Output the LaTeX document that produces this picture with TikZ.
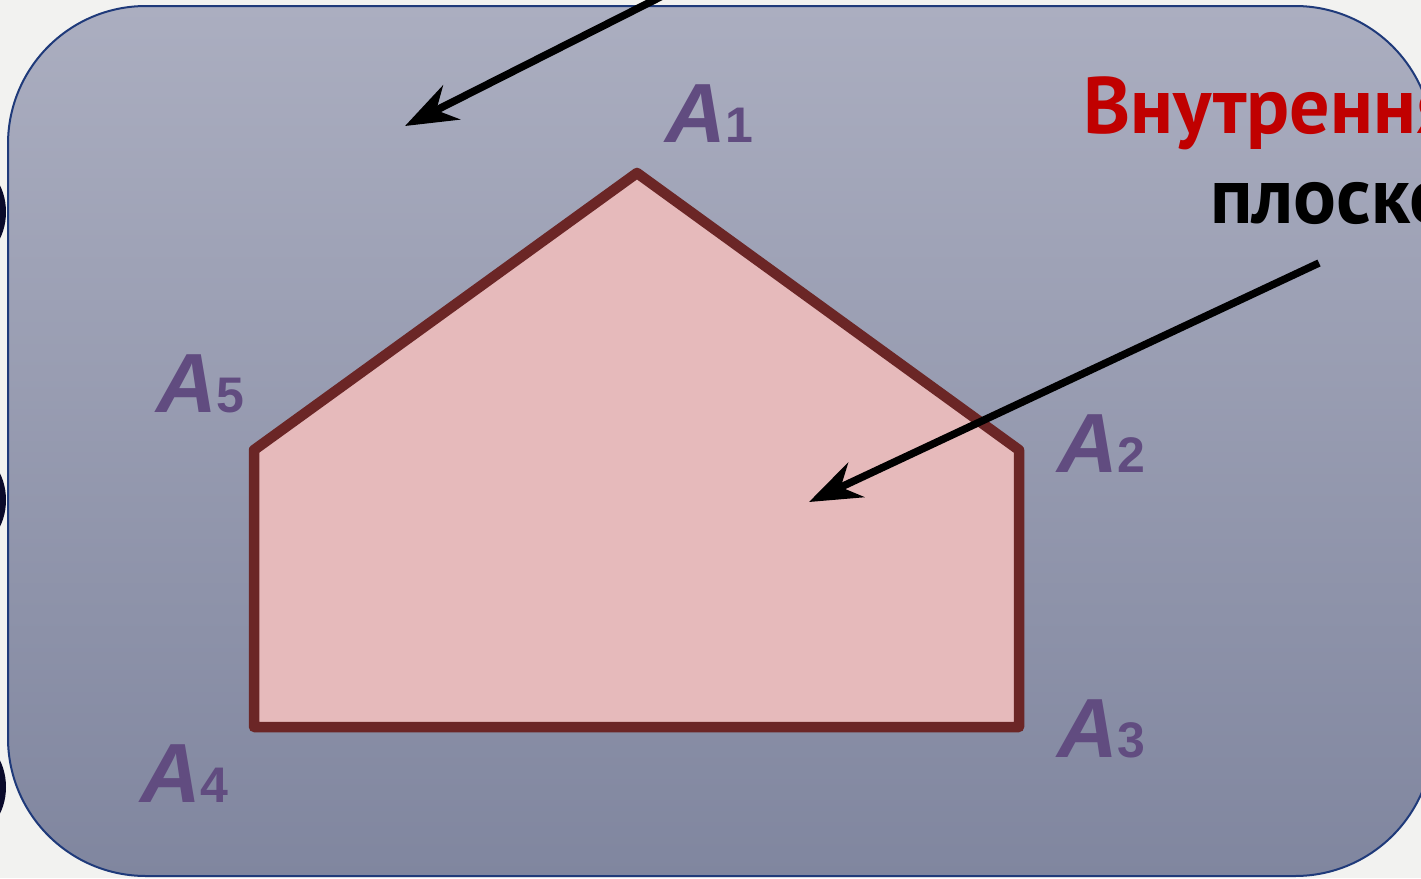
\documentclass[tikz,border=0pt]{standalone}
\usepackage{fontspec}
\setmainfont{Liberation Sans}
\newfontfamily\captionfont{PT Sans}
\usepackage{tikz}
\usetikzlibrary{arrows.meta}
\definecolor{pagegrey}   {RGB}{242, 242, 240}
\definecolor{boxtop}     {RGB}{171, 174, 192}
\definecolor{boxbottom}  {RGB}{128, 134, 159}
\definecolor{boxedge}    {RGB}{ 31,  58, 122}
\definecolor{polyfill}   {RGB}{230, 186, 187}
\definecolor{polyedge}   {RGB}{107,  38,  38}
\definecolor{vertpurple} {RGB}{ 97,  76, 128}
\definecolor{titlered}   {RGB}{192,   0,   0}
\definecolor{knobnavy}   {RGB}{ 10,  10,  42}

\begin{document}
\begin{tikzpicture}[x=1pt,y=-1pt,
	pointer/.style={line width=7.5pt,-{Stealth[length=52pt,width=38pt,inset=17pt]}},
	vlabel/.style={anchor=base west,inner sep=0pt,text=vertpurple,font=\bfseries}]
	\useasboundingbox (0,0) rectangle (1421,878);
	\clip (0,0) rectangle (1421,878);
	\fill[pagegrey] (0,0) rectangle (1421,878);
	\foreach \y in {212,500,787}{\fill[knobnavy] (-30,\y) ellipse [x radius=36pt, y radius=48pt];}
	\shade[top color=boxtop,bottom color=boxbottom,draw=boxedge,line width=2pt,rounded corners=138pt]
		(8,6) rectangle (1433,876);
	\foreach \i/\x/\y in {1/637/173,2/1019/450,3/1019/727,4/254/727,5/254/450}{\coordinate (P\i) at (\x,\y);}
	\draw[polyedge,fill=polyfill,line width=10.5pt,line join=round] (P1)--(P2)--(P3)--(P4)--(P5)--cycle;
	\foreach \i/\x/\y in {1/665/142,2/1057/472,3/1057/757,4/140/802,5/156/412}{
		\node[vlabel] (L\i) at (\x,\y) {\fontsize{84}{90}\selectfont\itshape A\upshape\fontsize{50}{55}\selectfont\i};}
	\node[anchor=base west,inner sep=0pt,text=titlered,font=\captionfont\bfseries] (title) at (1083,133) {\fontsize{80}{90}\selectfont Внутренняя};
	\node[anchor=base west,inner sep=0pt,font=\captionfont\bfseries] (subtitle) at (1210,223) {\fontsize{80}{90}\selectfont плоско};
	\coordinate (outTail) at (690,-18);
	\coordinate (outTip) at (405,126);
	\coordinate (inTail) at (1319,263);
	\coordinate (inTip) at (809,502);
	\draw[pointer] (outTail) -- (outTip);
	\draw[pointer] (inTail) -- (inTip);
\end{tikzpicture}
\end{document}
